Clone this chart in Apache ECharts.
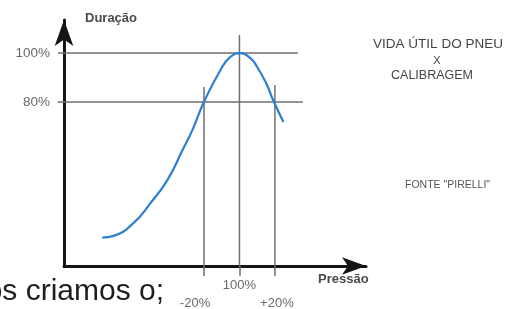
<!DOCTYPE html>
<html><head><meta charset="utf-8">
<script src="https://cdn.jsdelivr.net/npm/echarts@6/dist/echarts.min.js"></script>
<style>html,body{margin:0;padding:0;background:#fff}#c{width:505px;height:309px}</style>
</head><body><div id="c"></div>
<script>
// Curve: pressure (% of recommended) vs tyre life (%)
const pressure = [22.6, 29, 40.3, 49.9, 59.4, 67.9, 73.5, 79.7, 89.3, 94.9, 100.6, 106, 110, 115, 119, 124.8];
const duration = [24.6, 25.3, 30.6, 38.8, 48.2, 60.4, 68.6, 79.6, 93.1, 98.4, 100, 98, 94.3, 87.8, 80.8, 71.8];
// Reference levels
const yTicks = [80, 100];
const yTickLabels = ['80%', '100%'];
const hLineEnds = [135.8, 133];      // right end (pressure) of 80% / 100% guide lines
const xTicks = [80, 100, 120];
const xTickLabels = ['-20%', '100%', '+20%'];
const vLineTops = [86.1, 107.4, 86.9]; // top (duration) of the vertical guide lines
const yName = 'Duração';
const xName = 'Pressão';
const titleLines = ['VIDA ÚTIL DO PNEU', 'X', 'CALIBRAGEM'];
const sourceText = 'FONTE "PIRELLI"';
const bodyText = 'nós criamos o;';

const X_MIN = 1, X_MAX = 171.4, Y_MIN = 13, Y_MAX = 113.5;
const FONT = '"Liberation Sans", Arial, sans-serif';
const guide = {color: '#6f6f6f', width: 1.5};
const LBL = '#6a6a6a';
const lbl = v => xTickLabels[xTicks.indexOf(v)];

const series = [];
yTicks.forEach((v, i) => {
  series.push({type: 'line', data: [[X_MIN, v], [hLineEnds[i], v]], symbol: 'none',
    lineStyle: guide, silent: true, z: 2, clip: false});
});
xTicks.forEach((v, i) => {
  series.push({type: 'line', data: [[v, Y_MIN], [v, vLineTops[i]]], symbol: 'none',
    lineStyle: guide, silent: true, z: 2, clip: false});
});
series.push({type: 'line', data: pressure.map((p, i) => [p, duration[i]]), smooth: 0.5,
  symbol: 'none', lineStyle: {color: '#2d7fd2', width: 2.2}, z: 5, clip: false});

const chart = echarts.init(document.getElementById('c'), null, {renderer: 'canvas'});
chart.setOption({
  animation: false,
  backgroundColor: '#fff',
  grid: {left: 64, top: 20, right: 139, bottom: 43, containLabel: false, outerBoundsMode: 'none'},
  xAxis: [{
    type: 'value', min: X_MIN, max: X_MAX, splitLine: {show: false},
    axisLine: {show: true, onZero: false, lineStyle: {color: '#151515', width: 3},
      symbol: ['none', 'arrow'], symbolSize: [13, 24]},
    axisTick: {show: true, customValues: xTicks, length: 10, lineStyle: guide},
    axisLabel: {show: true, customValues: [xTicks[1]], margin: 13, color: LBL, fontSize: 13,
      fontFamily: FONT, formatter: lbl}
  }, {
    type: 'value', min: X_MIN, max: X_MAX, position: 'bottom', splitLine: {show: false},
    axisLine: {show: false}, axisTick: {show: false},
    axisLabel: {show: true, customValues: [xTicks[0], xTicks[2]], margin: 31,
      formatter: v => v < 100 ? '{l|' + lbl(v) + '}' : '{r|' + lbl(v) + '}',
      rich: {
        l: {color: LBL, fontSize: 13, fontFamily: FONT, padding: [0, 18, 0, 0]},
        r: {color: LBL, fontSize: 13, fontFamily: FONT, padding: [0, 0, 0, 4]}
      }}
  }],
  yAxis: {
    type: 'value', min: Y_MIN, max: Y_MAX, splitLine: {show: false},
    axisLine: {show: true, onZero: false, lineStyle: {color: '#151515', width: 3},
      symbol: ['none', 'arrow'], symbolSize: [14, 26]},
    axisTick: {show: true, customValues: yTicks, length: 6, lineStyle: guide},
    axisLabel: {
      show: true, customValues: yTicks, margin: 14, color: LBL, fontSize: 13.5,
      fontFamily: FONT, formatter: v => yTickLabels[yTicks.indexOf(v)]
    }
  },
  series: series,
  graphic: [
    {type: 'text', x: 85, y: 12, style: {text: yName, font: 'bold 13px ' + FONT, fill: '#4a4a4a'}},
    {type: 'text', x: 318, y: 273, style: {text: xName, font: 'bold 13px ' + FONT, fill: '#4a4a4a'}},
    {type: 'text', x: 438, y: 37, style: {text: titleLines[0], font: '13.5px ' + FONT, fill: '#444', align: 'center'}},
    {type: 'text', x: 437, y: 55, style: {text: titleLines[1], font: '11px ' + FONT, fill: '#444', align: 'center'}},
    {type: 'text', x: 432, y: 69, style: {text: titleLines[2], font: '12.5px ' + FONT, fill: '#444', align: 'center'}},
    {type: 'text', x: 405, y: 180, style: {text: sourceText, font: '10.5px ' + FONT, fill: '#555'}},
    {type: 'text', x: -31, y: 277, style: {text: bodyText, font: '30px ' + FONT, fill: '#1e1e1e'}}
  ]
});
</script></body></html>
